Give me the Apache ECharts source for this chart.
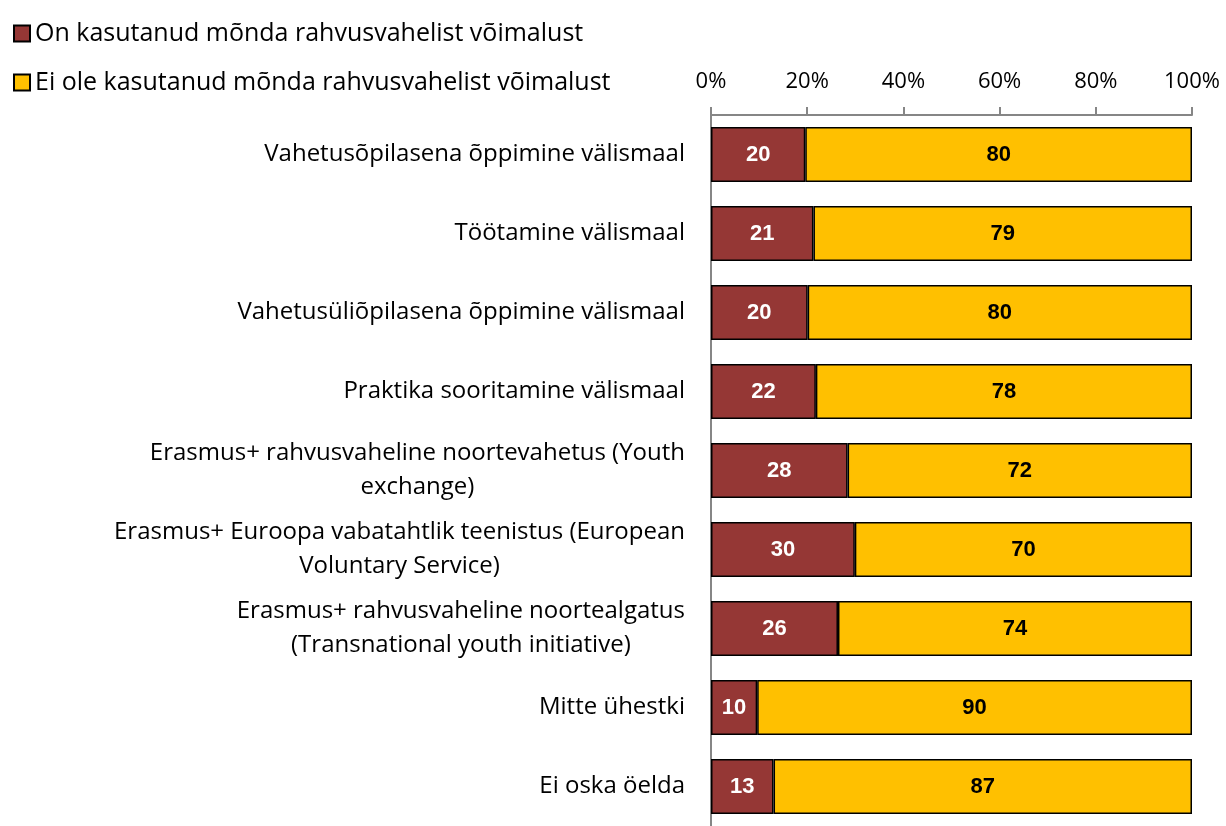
<!DOCTYPE html>
<html>
<head>
<meta charset="utf-8">
<script src="https://cdn.jsdelivr.net/npm/echarts@6/dist/echarts.min.js"></script>
<style>
  html, body { margin: 0; padding: 0; background: #fff; }
  #chart { width: 1226px; height: 826px; }
</style>
</head>
<body>
<div id="chart"></div>
<script>
// categories, top to bottom
var categories = [
  "Vahetusõpilasena õppimine välismaal",
  "Töötamine välismaal",
  "Vahetusüliõpilasena õppimine välismaal",
  "Praktika sooritamine välismaal",
  "Erasmus+ rahvusvaheline noortevahetus (Youth\nexchange)",
  "Erasmus+ Euroopa vabatahtlik teenistus (European\nVoluntary Service)",
  "Erasmus+ rahvusvaheline noortealgatus\n(Transnational youth initiative)",
  "Mitte ühestki",
  "Ei oska öelda"
];
var seriesNames = [
  "On kasutanud mõnda rahvusvahelist võimalust",
  "Ei ole kasutanud mõnda rahvusvahelist võimalust"
];
// shares in %
var usedValues = [19.6, 21.3, 20.1, 21.8, 28.4, 29.9, 26.4, 9.6, 13.0];
var notUsedValues = [80.4, 78.7, 79.9, 78.2, 71.6, 70.1, 73.6, 90.4, 87.0];
var xTicks = [0, 20, 40, 60, 80, 100];

var textFont = "Open Sans";
var chart = echarts.init(document.getElementById("chart"));

function barLabel(color) {
  return {
    show: true,
    position: "inside",
    color: color,
    fontFamily: "Liberation Sans",
    fontWeight: "bold",
    fontSize: 22,
    formatter: function (p) { return Math.round(p.value); }
  };
}

var option = {
  animation: false,
  backgroundColor: "#fff",
  legend: {
    orient: "vertical",
    left: 8,
    top: 16,
    itemWidth: 16,
    itemHeight: 16,
    itemGap: 24,
    icon: "rect",
    textStyle: { fontFamily: textFont, fontSize: 25, color: "#000", lineHeight: 24, padding: [0, 0, 0, 0] },
    data: seriesNames
  },
  grid: { left: 711, top: 115, width: 481, height: 720 },
  xAxis: {
    type: "value",
    position: "top",
    min: 0,
    max: 100,
    interval: 20,
    axisLine: { show: true, lineStyle: { color: "#868686", width: 2 } },
    axisTick: { show: true, length: 8, lineStyle: { color: "#868686", width: 2 } },
    splitLine: { show: false },
    axisLabel: {
      margin: 22,
      fontFamily: textFont,
      fontSize: 22,
      color: "#000",
      formatter: function (v) { return xTicks.indexOf(v) >= 0 ? v + "%" : ""; }
    }
  },
  yAxis: {
    type: "category",
    inverse: true,
    data: categories,
    axisLine: { show: true, lineStyle: { color: "#868686", width: 2 } },
    axisTick: { show: false },
    axisLabel: {
      margin: 26,
      fontFamily: textFont,
      fontSize: 24,
      color: "#000",
      lineHeight: 34,
      formatter: function (v) {
        return v.split("\n").map(function (s) { return "{c|" + s + "}"; }).join("\n");
      },
      rich: { c: { align: "center", fontFamily: textFont, fontSize: 24, lineHeight: 34, color: "#000" } }
    }
  },
  series: [
    {
      name: seriesNames[0],
      type: "bar",
      stack: "total",
      barWidth: 55,
      data: usedValues,
      itemStyle: { color: "#953735", borderColor: "#000", borderWidth: 1.5 },
      label: barLabel("#fff")
    },
    {
      name: seriesNames[1],
      type: "bar",
      stack: "total",
      barWidth: 55,
      data: notUsedValues,
      itemStyle: { color: "#FFC000", borderColor: "#000", borderWidth: 1.5 },
      label: barLabel("#000")
    }
  ]
};

chart.setOption(option);
</script>
</body>
</html>
